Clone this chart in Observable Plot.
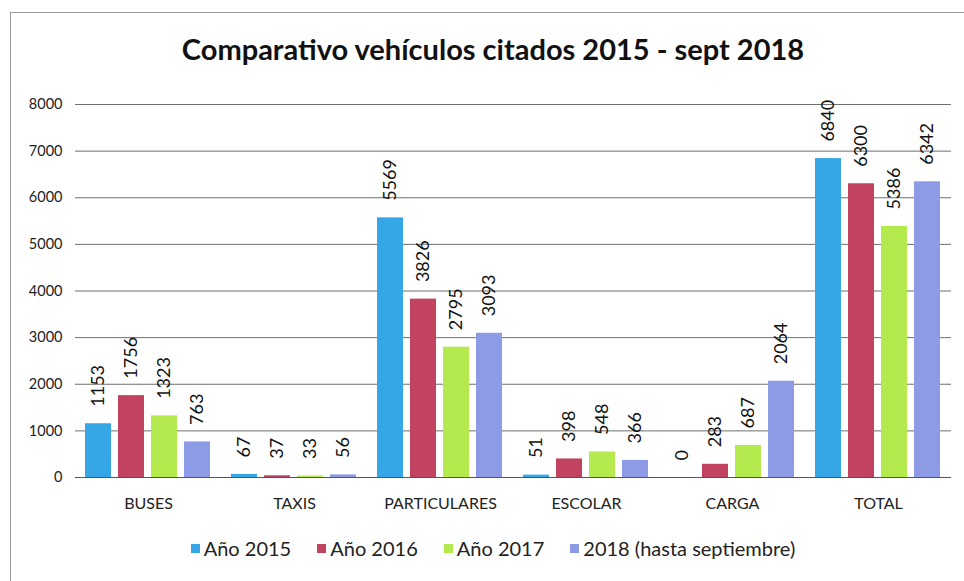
<!DOCTYPE html>
<html>
<head>
<meta charset="utf-8">
<script src="https://cdn.jsdelivr.net/npm/d3@7"></script>
<script src="https://cdn.jsdelivr.net/npm/@observablehq/plot@0.6"></script>
<style>
  html, body { margin: 0; padding: 0; background: #fff; }
  #wrap { position: relative; width: 964px; height: 581px; overflow: hidden; font-family: Lato, "Open Sans", sans-serif; }
  #frame { position: absolute; left: 10px; top: 12px; width: 980px; height: 600px; border-left: 1px solid #9a9a9a; border-top: 1px solid #9a9a9a; }
  #title { position: absolute; left: 0; width: 986px; top: 31px; text-align: center; font-weight: bold; font-size: 29px; color: #111; }
  #plot { position: absolute; left: 0; top: 80px; }
  #legend { position: absolute; left: 0; width: 986px; top: 536px; display: flex; justify-content: center; gap: 26px; font-size: 20px; color: #222; }
  #legend .item { display: flex; align-items: center; gap: 4px; }
  #legend .sw { width: 9px; height: 9px; display: inline-block; }
</style>
</head>
<body>
<div id="wrap">
  <div id="frame"></div>
  <div id="title">Comparativo vehículos citados 2015 - sept 2018</div>
  <div id="plot"></div>
  <div id="legend"></div>
</div>
<script>
// Vehicle categories and yearly series
const categories = ["BUSES", "TAXIS", "PARTICULARES", "ESCOLAR", "CARGA", "TOTAL"];
const seriesNames = ["Año 2015", "Año 2016", "Año 2017", "2018 (hasta septiembre)"];
const seriesColors = ["#35a7e6", "#c2435f", "#b5ea4e", "#8d9ae6"];
const y2015 = [1153, 67, 5569, 51, 0, 6840];
const y2016 = [1756, 37, 3826, 398, 283, 6300];
const y2017 = [1323, 33, 2795, 548, 687, 5386];
const y2018 = [763, 56, 3093, 366, 2064, 6342];
const yTicks = [0, 1000, 2000, 3000, 4000, 5000, 6000, 7000, 8000];

const seriesValues = [y2015, y2016, y2017, y2018];
const rows = [];
categories.forEach((cat, i) => {
  seriesNames.forEach((s, j) => {
    rows.push({categoria: cat, serie: s, valor: seriesValues[j][i]});
  });
});

const chart = Plot.plot({
  width: 964,
  height: 440,
  marginLeft: 75,
  marginRight: 13,
  marginTop: 24,
  marginBottom: 43,
  style: {fontFamily: "Lato, 'Open Sans', sans-serif", background: "transparent", overflow: "visible"},
  fx: {domain: categories, padding: 0, label: null, axis: null},
  x: {domain: seriesNames, paddingInner: 0.2, paddingOuter: 0.3, axis: null},
  y: {domain: [0, 8000], label: null},
  color: {domain: seriesNames, range: seriesColors},
  marks: [
    Plot.gridY(yTicks, {stroke: "#6f6f6f", strokeOpacity: 1, strokeWidth: 1}),
    Plot.axisY({ticks: yTicks, tickFormat: d => String(d), tickSize: 0, tickPadding: 13, fontSize: 14.5, fill: "#222", label: null}),
    Plot.axisFx({anchor: "bottom", tickSize: 0, tickPadding: 20, fontSize: 16, fill: "#222", label: null}),
    Plot.barY(rows, {fx: "categoria", x: "serie", y: "valor", fill: "serie"}),
    Plot.ruleY([0], {stroke: "#555", strokeWidth: 1}),
    Plot.text(rows, {
      fx: "categoria", x: "serie", y: "valor", text: d => String(d.valor),
      rotate: -90, textAnchor: "start", dy: -17, fontSize: 18, fill: "#111"
    })
  ]
});
document.getElementById("plot").appendChild(chart);

// Legend
const legend = document.getElementById("legend");
seriesNames.forEach((s, i) => {
  const item = document.createElement("div");
  item.className = "item";
  const sw = document.createElement("span");
  sw.className = "sw";
  sw.style.background = seriesColors[i];
  const label = document.createElement("span");
  label.textContent = s;
  item.appendChild(sw);
  item.appendChild(label);
  legend.appendChild(item);
});
</script>
</body>
</html>
